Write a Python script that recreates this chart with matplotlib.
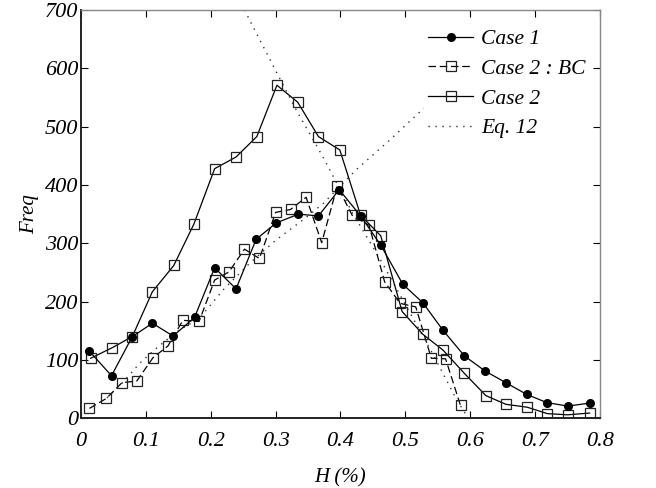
import matplotlib.pyplot as plt

# Case 1 (filled circles)
h_case1 = [0.013, 0.047, 0.079, 0.110, 0.142, 0.175, 0.206, 0.239, 0.270, 0.301,
           0.335, 0.366, 0.398, 0.431, 0.462, 0.496, 0.527, 0.558, 0.591, 0.623,
           0.655, 0.687, 0.718, 0.750, 0.784]
f_case1 = [115, 73, 140, 163, 141, 173, 258, 222, 307, 335,
           350, 347, 392, 347, 297, 230, 198, 151, 107, 81,
           61, 41, 27, 21, 26]

# Case 2 : BC (dashed, open squares)
h_bc = [0.013, 0.039, 0.063, 0.086, 0.111, 0.134, 0.157, 0.182, 0.206, 0.228,
        0.252, 0.275, 0.300, 0.323, 0.347, 0.371, 0.395, 0.418, 0.444, 0.468,
        0.492, 0.516, 0.540, 0.562, 0.585]
f_bc = [17, 34, 61, 64, 104, 124, 168, 166, 237, 251,
        290, 274, 353, 358, 379, 301, 398, 348, 331, 234,
        197, 191, 103, 102, 22]

# Case 2 (solid, open squares)
h_case2 = [0.015, 0.048, 0.079, 0.110, 0.143, 0.174, 0.206, 0.239, 0.271, 0.302,
           0.334, 0.366, 0.399, 0.431, 0.462, 0.495, 0.527, 0.558, 0.591, 0.624,
           0.655, 0.688, 0.719, 0.750, 0.784]
f_case2 = [103, 121, 140, 217, 262, 333, 428, 448, 483, 571,
           542, 483, 460, 348, 313, 183, 144, 117, 77, 39,
           24, 19, 8, 6, 9]

# Eq. 12, two branches
h_eq_rise = [0.04, 0.065, 0.09, 0.12, 0.15, 0.183, 0.219, 0.26, 0.301, 0.342,
             0.373, 0.424, 0.476, 0.52, 0.56]
f_eq_rise = [35, 62, 94, 124, 150, 172, 220, 266, 306, 340,
             368, 426, 477, 523, 560]
h_eq_fall = [0.252, 0.301, 0.332, 0.373, 0.419, 0.46, 0.50, 0.54, 0.58, 0.597]
f_eq_fall = [700, 594, 528, 448, 351, 275, 195, 115, 30, 0]

x_ticks = [0, 0.1, 0.2, 0.3, 0.4, 0.5, 0.6, 0.7, 0.8]
x_tick_labels = ["0", "0.1", "0.2", "0.3", "0.4", "0.5", "0.6", "0.7", "0.8"]
y_ticks = [0, 100, 200, 300, 400, 500, 600, 700]

plt.rcParams['font.family'] = ['Liberation Serif', 'DejaVu Serif']
plt.rcParams['font.style'] = 'italic'

fig = plt.figure(figsize=(6.56, 4.88), dpi=100)
ax = fig.add_axes([0.1235, 0.1428, 0.7911, 0.8367])

ax.plot(h_case1, f_case1, color="black", lw=0.9, marker="o", ms=5.5,
        mfc="black", mec="black", label="Case 1", zorder=4)
ax.plot(h_bc, f_bc, color="black", lw=0.9, ls=(0, (6, 3)), marker="s", ms=7.5,
        mfc="none", mec="#222222", mew=0.9, label="Case 2 : BC", zorder=3)
ax.plot(h_case2, f_case2, color="black", lw=0.9, marker="s", ms=7.5,
        mfc="none", mec="#222222", mew=0.9, label="Case 2", zorder=3)
ax.plot(h_eq_rise, f_eq_rise, color="#333333", lw=1.0, ls=(0, (1, 4)),
        label="Eq. 12", zorder=2)
ax.plot(h_eq_fall, f_eq_fall, color="#333333", lw=1.0, ls=(0, (1, 4)), zorder=2)

ax.set_xlim(0, 0.8)
ax.set_ylim(0, 700)
ax.set_xticks(x_ticks)
ax.set_xticklabels(x_tick_labels)
ax.set_yticks(y_ticks)
ax.tick_params(direction="in", length=5, top=True, right=True,
               labelsize=16, colors="black")
ax.tick_params(axis="x", pad=10)
ax.tick_params(axis="y", pad=2)
for side in ["left", "bottom"]:
    ax.spines[side].set_linewidth(1.4)
    ax.spines[side].set_color("#222222")
for side in ["top", "right"]:
    ax.spines[side].set_linewidth(1.0)
    ax.spines[side].set_color("#888888")

ax.set_xlabel("H (%)", fontsize=15, labelpad=12)
ax.set_ylabel("Freq", fontsize=15, labelpad=4)

leg = ax.legend(loc="upper left", bbox_to_anchor=(0.64, 0.99), frameon=True,
                fontsize=15.5, handlelength=2.1, handletextpad=0.35,
                labelspacing=0.45, borderpad=0.2)
leg.get_frame().set_edgecolor("none")
leg.get_frame().set_facecolor("white")
leg.get_frame().set_alpha(1.0)

fig.savefig("out.png", dpi=100)
